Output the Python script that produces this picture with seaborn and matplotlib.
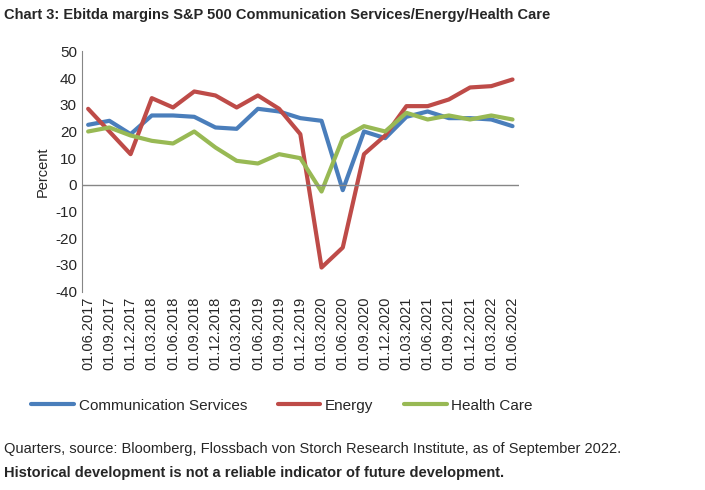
import matplotlib
matplotlib.use("Agg")
import matplotlib.pyplot as plt
import seaborn as sns
import pandas as pd

dates = ["01.06.2017","01.09.2017","01.12.2017","01.03.2018","01.06.2018","01.09.2018","01.12.2018",
         "01.03.2019","01.06.2019","01.09.2019","01.12.2019","01.03.2020","01.06.2020","01.09.2020",
         "01.12.2020","01.03.2021","01.06.2021","01.09.2021","01.12.2021","01.03.2022","01.06.2022"]
comm = [22.5,24,19,26,26,25.5,21.5,21,28.5,27.5,25,24,-2,20,17.5,25.5,27.5,25,25,24.5,22]
energy = [28.5,20,11.5,32.5,29,35,33.5,29,33.5,28.5,19,-31,-23.5,11.5,18.5,29.5,29.5,32,36.5,37,39.5]
health = [20,21.5,18.5,16.5,15.5,20,14,9,8,11.5,10,-2.5,17.5,22,20,27,24.5,26,24.5,26,24.5]

sns.set_style("white")
plt.rcParams['font.family'] = ['Liberation Sans', 'DejaVu Sans']
plt.rcParams['axes.unicode_minus'] = False

df = pd.DataFrame({"Date": list(range(len(dates))) * 3,
                   "Value": comm + energy + health,
                   "Series": ["Communication Services"]*21 + ["Energy"]*21 + ["Health Care"]*21})

fig = plt.figure(figsize=(7.05, 4.9), dpi=100)
ax = fig.add_axes([0.116, 0.405, 0.62, 0.49])
sns.lineplot(data=df, x="Date", y="Value", hue="Series",
             palette=["#4a7ebb", "#be4b48", "#98b954"], linewidth=3, ax=ax, legend=False)
ax.set_xlim(-0.3, 20.3)
ax.set_ylim(-40, 50)
ax.set_yticks(range(-40, 51, 10))
ax.set_xticks(range(21))
ax.set_xticklabels(dates, rotation=90, fontsize=10.5)
ax.tick_params(axis='y', labelsize=11, length=0)
ax.tick_params(axis='x', length=0)
ax.set_xlabel("")
ax.set_ylabel("Percent", fontsize=10.5)
for s in ["top", "right", "bottom"]:
    ax.spines[s].set_visible(False)
ax.spines["left"].set_color("#868686")
ax.axhline(0, color="#868686", lw=1)

from matplotlib.lines import Line2D
handles = [Line2D([], [], color=c, lw=3) for c in ["#4a7ebb", "#be4b48", "#98b954"]]
fig.legend(handles, ["Communication Services", "Energy", "Health Care"], loc="center",
           bbox_to_anchor=(0.40, 0.172), ncol=3, frameon=False, fontsize=11, handlelength=2.8,
           handletextpad=0.3, columnspacing=2.0)

fig.text(0.006, 0.962, "Chart 3: Ebitda margins S&P 500 Communication Services/Energy/Health Care",
         fontsize=10.5, fontweight="bold")
fig.text(0.006, 0.075, "Quarters, source: Bloomberg, Flossbach von Storch Research Institute, as of September 2022.",
         fontsize=10.5)
fig.text(0.006, 0.027, "Historical development is not a reliable indicator of future development.",
         fontsize=10.5, fontweight="bold")
fig.savefig("out.png", dpi=100)
